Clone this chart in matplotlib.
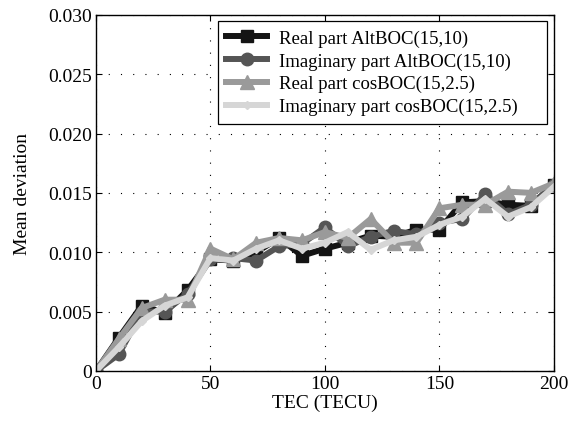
import numpy as np
import matplotlib.pyplot as plt
from matplotlib.ticker import FixedLocator, FixedFormatter

plt.rcParams['font.family'] = ['Liberation Serif', 'DejaVu Serif']

# data
tec = [0, 10, 20, 30, 40, 50, 60, 70, 80, 90, 100,
       110, 120, 130, 140, 150, 160, 170, 180, 190, 200]
real_altboc = [0.0, 0.0028, 0.0055, 0.0049, 0.0068, 0.0094, 0.0093, 0.0100, 0.0112, 0.0097, 0.0103,
               0.0108, 0.0114, 0.0113, 0.0119, 0.0119, 0.0142, 0.0143, 0.0140, 0.0139, 0.0157]
imag_altboc = [0.0, 0.0014, 0.0050, 0.0050, 0.0065, 0.0094, 0.0095, 0.0093, 0.0105, 0.0107, 0.0121,
               0.0105, 0.0113, 0.0118, 0.0115, 0.0125, 0.0128, 0.0149, 0.0132, 0.0140, 0.0157]
real_cosboc = [0.0, 0.0027, 0.0053, 0.0060, 0.0060, 0.0103, 0.0094, 0.0108, 0.0112, 0.0110, 0.0117,
               0.0112, 0.0128, 0.0108, 0.0108, 0.0137, 0.0140, 0.0140, 0.0151, 0.0150, 0.0158]
imag_cosboc = [0.0, 0.0020, 0.0042, 0.0055, 0.0062, 0.0095, 0.0093, 0.0103, 0.0110, 0.0103, 0.0108,
               0.0117, 0.0102, 0.0110, 0.0113, 0.0123, 0.0130, 0.0145, 0.0130, 0.0138, 0.0155]
labels = ['Real part AltBOC(15,10)', 'Imaginary part AltBOC(15,10)',
          'Real part cosBOC(15,2.5)', 'Imaginary part cosBOC(15,2.5)']

x_ticks = [0, 50, 100, 150, 200]
y_ticks = [0, 0.005, 0.010, 0.015, 0.020, 0.025, 0.030]
y_labels = ['0', '0.005', '0.010', '0.015', '0.020', '0.025', '0.030']

fig = plt.figure(figsize=(5.68, 4.27), dpi=100)
ax = fig.add_axes([0.169, 0.129, 0.806, 0.834])

series = [real_altboc, imag_altboc, real_cosboc, imag_cosboc]
colors = ['#141414', '#555555', '#9a9a9a', '#d6d6d6']
markers = ['s', 'o', '^', 'D']
msizes = [9, 9, 10, 4]
for ys, c, m, ms, lab in zip(series, colors, markers, msizes, labels):
    ax.plot(tec, ys, color=c, marker=m, markersize=ms, linewidth=4.3,
            markeredgecolor=c, label=lab)

ax.set_xlim(0, 200)
ax.set_ylim(0, 0.030)
ax.xaxis.set_major_locator(FixedLocator(x_ticks))
ax.yaxis.set_major_locator(FixedLocator(y_ticks))
ax.yaxis.set_major_formatter(FixedFormatter(y_labels))
ax.tick_params(direction='in', top=True, right=True, labelsize=14, length=4, width=0.8, pad=3)
ax.grid(True, color='black', linestyle=(0, (1, 10)), linewidth=0.8)
for s in ax.spines.values():
    s.set_linewidth(1.0)

ax.set_xlabel('TEC (TECU)', fontsize=14, labelpad=1)
ax.set_ylabel('Mean deviation', fontsize=14, labelpad=12)

# MATLAB-style legend box: wider than its text, so expand it to a fixed span
leg = ax.legend(loc='upper left', bbox_to_anchor=(0.266, 0.697, 0.719, 0.286), mode='expand',
                fontsize=13.5, handlelength=2.2, borderpad=0.45, labelspacing=0.3,
                handletextpad=0.6, borderaxespad=0, fancybox=False, framealpha=1,
                edgecolor='black')
leg.get_frame().set_linewidth(0.9)

fig.savefig('out.png', dpi=100)
